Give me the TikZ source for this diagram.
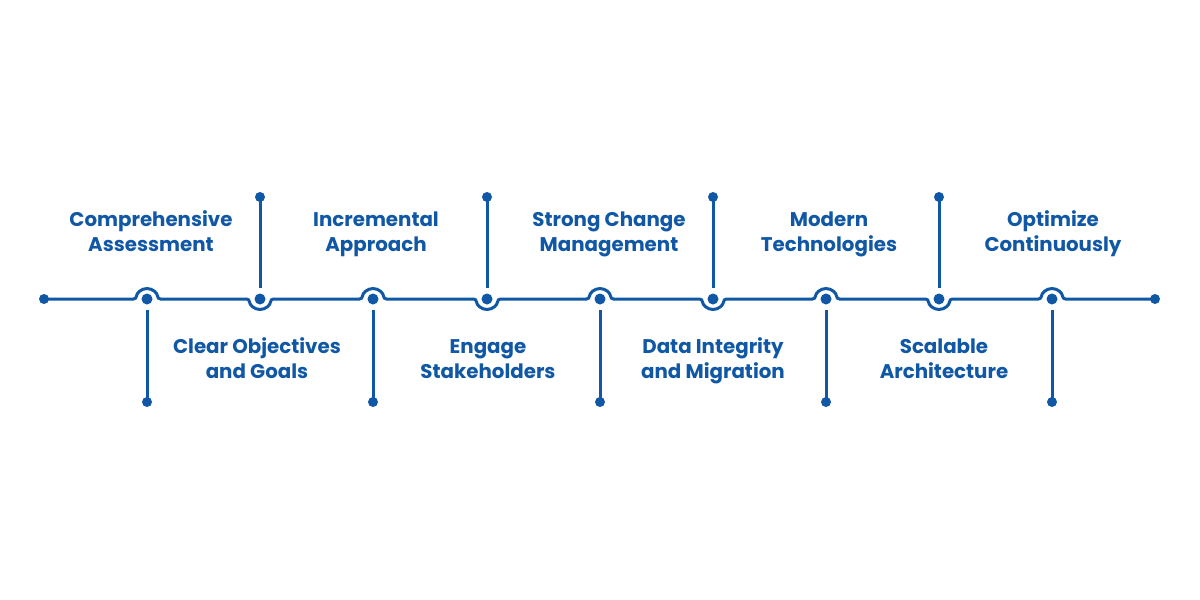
\documentclass[tikz,border=0pt]{standalone}
\usepackage{fontspec}
\setmainfont{Poppins}[UprightFont=* SemiBold, BoldFont=* Bold]
\definecolor{tblue}{RGB}{16,88,166}
\begin{document}
\begin{tikzpicture}[x=1pt,y=-1pt,
  mainline/.style={draw=tblue,line width=3pt,rounded corners=3pt},
  branch/.style={draw=tblue,line width=3pt},
  dotnode/.style={circle,fill=tblue,inner sep=0pt,minimum size=10pt},
  cdot/.style={circle,fill=tblue,inner sep=0pt,minimum size=11pt},
  lbl/.style={align=center,text=tblue,inner sep=0pt,font=\fontsize{19.8}{25}\selectfont\bfseries}]
\useasboundingbox[fill=white] (0,0) rectangle (1200,600);
% end dots
\node[dotnode] (L) at (44,299) {};
\node[dotnode] (R) at (1155,299) {};
% junction centres
\foreach \i/\x in {1/147,2/260,3/373,4/487,5/600,6/713,7/826,8/939,9/1052}{
  \node[cdot] (j\i) at (\x,299) {};
}
% main line with hops
\draw[mainline] (L.center)
  -- ([xshift=-10.5pt]j1.center) arc[start angle=180,end angle=0,radius=10.5pt]
  -- ([xshift=-10.5pt]j2.center) arc[start angle=180,end angle=360,radius=10.5pt]
  -- ([xshift=-10.5pt]j3.center) arc[start angle=180,end angle=0,radius=10.5pt]
  -- ([xshift=-10.5pt]j4.center) arc[start angle=180,end angle=360,radius=10.5pt]
  -- ([xshift=-10.5pt]j5.center) arc[start angle=180,end angle=0,radius=10.5pt]
  -- ([xshift=-10.5pt]j6.center) arc[start angle=180,end angle=360,radius=10.5pt]
  -- ([xshift=-10.5pt]j7.center) arc[start angle=180,end angle=0,radius=10.5pt]
  -- ([xshift=-10.5pt]j8.center) arc[start angle=180,end angle=360,radius=10.5pt]
  -- ([xshift=-10.5pt]j9.center) arc[start angle=180,end angle=0,radius=10.5pt]
  -- (R.center);
% branches
\foreach \i/\x in {1/147,3/373,5/600,7/826,9/1052}{
  \node[dotnode] (b\i) at (\x,402) {};
  \draw[branch] ([yshift=-11pt]j\i.center) -- (b\i.center);
}
\foreach \i/\x in {2/260,4/487,6/713,8/939}{
  \node[dotnode] (b\i) at (\x,197) {};
  \draw[branch] ([yshift=11pt]j\i.center) -- (b\i.center);
}
% labels
\node[lbl] (t1) at (151,233.5) {\strut Comprehensive\\Assessment\strut};
\node[lbl] (t3) at (376,233.5) {\strut Incremental\\Approach\strut};
\node[lbl] (t5) at (609,233.5) {\strut Strong Change\\Management\strut};
\node[lbl] (t7) at (829,233.5) {\strut Modern\\Technologies\strut};
\node[lbl] (t9) at (1053,233.5) {\strut Optimize\\Continuously\strut};
\node[lbl] (t2) at (257,360.5) {\strut Clear Objectives\\and Goals\strut};
\node[lbl] (t4) at (488,360.5) {\strut Engage\\Stakeholders\strut};
\node[lbl] (t6) at (713,360.5) {\strut Data Integrity\\and Migration\strut};
\node[lbl] (t8) at (944,360.5) {\strut Scalable\\Architecture\strut};
\end{tikzpicture}
\end{document}
